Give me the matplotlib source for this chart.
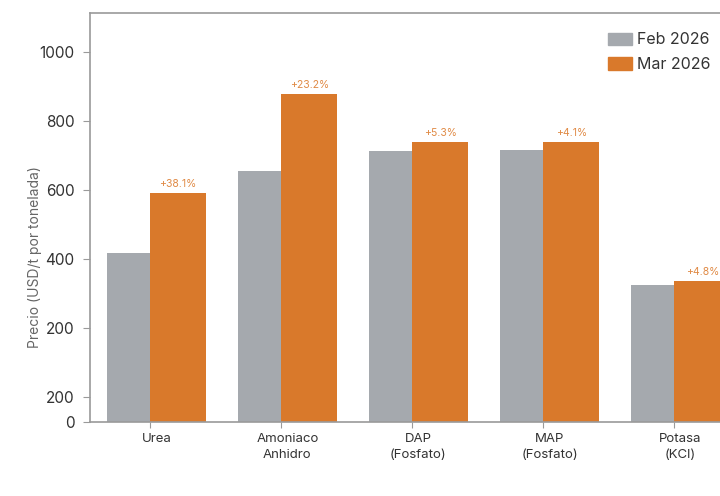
import numpy as np
import matplotlib
matplotlib.use("Agg")
import matplotlib.pyplot as plt
from matplotlib.patches import Patch

categories = ["Urea", "Amoniaco\nAnhidro", "DAP\n(Fosfato)", "MAP\n(Fosfato)", "Potasa\n(KCl)"]
feb_2026 = [417, 655, 713, 716, 325]
mar_2026 = [591, 878, 739, 739, 336]
changes = ["+38.1%", "+23.2%", "+5.3%", "+4.1%", "+4.8%"]
ytick_values = [-72, 0, 200, 400, 600, 800, 1000]
ytick_labels = ["0", "200", "200", "400", "600", "800", "1000"]
series_names = ["Feb 2026", "Mar 2026"]

GRAY = "#A5A9AE"
ORANGE = "#D9792B"
TEXT = "#333333"
SPINE = "#9A9A9A"

plt.rcParams['font.family'] = ['Inter', 'DejaVu Sans']

fig = plt.figure(figsize=(7.2, 4.96), dpi=100)
ax = fig.add_axes([90/720, (496-422)/496, 660/720, (422-13)/496])

ymin, ymax = -72, 1113
x = np.arange(len(categories))
w_feb, w_mar = 0.33, 0.43
feb = np.array(feb_2026, dtype=float)
mar = np.array(mar_2026, dtype=float)

ax.bar(x, feb - ymin, bottom=ymin, width=-w_feb, align='edge', color=GRAY, linewidth=0)
ax.bar(x, mar - ymin, bottom=ymin, width=w_mar, align='edge', color=ORANGE, linewidth=0)

for xi, v, lab in zip(x, mar, changes):
    ax.annotate(lab, (xi + w_mar/2, v), xytext=(0, 3), textcoords='offset points',
                ha='center', va='bottom', fontsize=7.5, color="#E08A45")

ax.set_ylim(ymin, ymax)
ax.set_xlim(-0.457, 4.58)
ax.set_yticks(ytick_values)
ax.set_yticklabels(ytick_labels)

ax.set_xticks(x)
ax.set_xticklabels([])
ax.set_xticks(x + (w_mar - w_feb)/2, minor=True)
ax.set_xticklabels(categories, minor=True, linespacing=1.45)
ax.tick_params(axis='x', which='minor', length=0, labelsize=9.5, colors=TEXT, pad=8)
ax.tick_params(axis='x', which='major', length=4, color=SPINE)
ax.tick_params(axis='y', length=5, color=SPINE, labelsize=11, labelcolor=TEXT, pad=6)

for s in ['left', 'top', 'bottom']:
    ax.spines[s].set_color(SPINE)
    ax.spines[s].set_linewidth(1.2)
ax.spines['right'].set_visible(False)

fig.text(35/720, 1 - 257/496, "Precio (USD/t por tonelada)", rotation=90,
         ha='center', va='center', fontsize=10, color="#666666")

handles = [Patch(color=GRAY), Patch(color=ORANGE)]
fig.legend(handles, series_names, loc='upper left', bbox_to_anchor=(602/720, 1 - 26/496),
           frameon=False, fontsize=11.5, handlelength=1.5, handleheight=0.8,
           handletextpad=0.3, labelspacing=0.6, labelcolor=TEXT, borderaxespad=0)

fig.savefig("out.png", dpi=100)
